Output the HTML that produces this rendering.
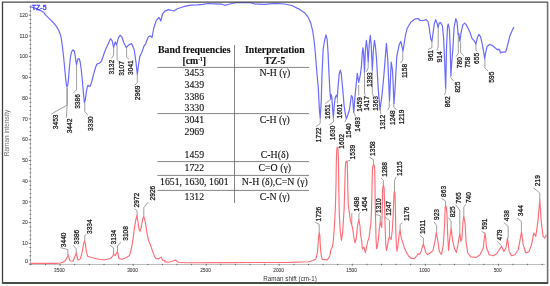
<!DOCTYPE html>
<html><head><meta charset="utf-8"><style>
html,body{margin:0;padding:0;background:#fff;width:550px;height:286px;overflow:hidden}
svg{display:block;filter:blur(0.3px)}
</style></head><body>
<svg width="550" height="286" viewBox="0 0 550 286">
<rect x="0" y="0" width="550" height="286" fill="#fff"/>
<g stroke="#a8aeae" stroke-width="0.8" fill="none">
<line x1="30.5" y1="5" x2="30.5" y2="264.5"/>
<line x1="30.5" y1="264.5" x2="545" y2="264.5"/>
</g>
<g stroke="#505050" stroke-width="0.8" fill="none">
<line x1="28.8" y1="264.1" x2="31.2" y2="264.1"/>
<line x1="29.6" y1="260.0" x2="31.2" y2="260.0"/>
<line x1="29.6" y1="255.8" x2="31.2" y2="255.8"/>
<line x1="29.6" y1="251.7" x2="31.2" y2="251.7"/>
<line x1="29.6" y1="247.5" x2="31.2" y2="247.5"/>
<line x1="28.8" y1="243.4" x2="31.2" y2="243.4"/>
<line x1="29.6" y1="239.2" x2="31.2" y2="239.2"/>
<line x1="29.6" y1="235.1" x2="31.2" y2="235.1"/>
<line x1="29.6" y1="230.9" x2="31.2" y2="230.9"/>
<line x1="29.6" y1="226.8" x2="31.2" y2="226.8"/>
<line x1="28.8" y1="222.6" x2="31.2" y2="222.6"/>
<line x1="29.6" y1="218.5" x2="31.2" y2="218.5"/>
<line x1="29.6" y1="214.3" x2="31.2" y2="214.3"/>
<line x1="29.6" y1="210.2" x2="31.2" y2="210.2"/>
<line x1="29.6" y1="206.0" x2="31.2" y2="206.0"/>
<line x1="28.8" y1="201.9" x2="31.2" y2="201.9"/>
<line x1="29.6" y1="197.7" x2="31.2" y2="197.7"/>
<line x1="29.6" y1="193.6" x2="31.2" y2="193.6"/>
<line x1="29.6" y1="189.4" x2="31.2" y2="189.4"/>
<line x1="29.6" y1="185.3" x2="31.2" y2="185.3"/>
<line x1="28.8" y1="181.1" x2="31.2" y2="181.1"/>
<line x1="29.6" y1="177.0" x2="31.2" y2="177.0"/>
<line x1="29.6" y1="172.8" x2="31.2" y2="172.8"/>
<line x1="29.6" y1="168.7" x2="31.2" y2="168.7"/>
<line x1="29.6" y1="164.5" x2="31.2" y2="164.5"/>
<line x1="28.8" y1="160.4" x2="31.2" y2="160.4"/>
<line x1="29.6" y1="156.3" x2="31.2" y2="156.3"/>
<line x1="29.6" y1="152.1" x2="31.2" y2="152.1"/>
<line x1="29.6" y1="148.0" x2="31.2" y2="148.0"/>
<line x1="29.6" y1="143.8" x2="31.2" y2="143.8"/>
<line x1="28.8" y1="139.7" x2="31.2" y2="139.7"/>
<line x1="29.6" y1="135.5" x2="31.2" y2="135.5"/>
<line x1="29.6" y1="131.4" x2="31.2" y2="131.4"/>
<line x1="29.6" y1="127.2" x2="31.2" y2="127.2"/>
<line x1="29.6" y1="123.1" x2="31.2" y2="123.1"/>
<line x1="28.8" y1="118.9" x2="31.2" y2="118.9"/>
<line x1="29.6" y1="114.8" x2="31.2" y2="114.8"/>
<line x1="29.6" y1="110.6" x2="31.2" y2="110.6"/>
<line x1="29.6" y1="106.5" x2="31.2" y2="106.5"/>
<line x1="29.6" y1="102.3" x2="31.2" y2="102.3"/>
<line x1="28.8" y1="98.2" x2="31.2" y2="98.2"/>
<line x1="29.6" y1="94.0" x2="31.2" y2="94.0"/>
<line x1="29.6" y1="89.9" x2="31.2" y2="89.9"/>
<line x1="29.6" y1="85.7" x2="31.2" y2="85.7"/>
<line x1="29.6" y1="81.6" x2="31.2" y2="81.6"/>
<line x1="28.8" y1="77.4" x2="31.2" y2="77.4"/>
<line x1="29.6" y1="73.3" x2="31.2" y2="73.3"/>
<line x1="29.6" y1="69.1" x2="31.2" y2="69.1"/>
<line x1="29.6" y1="65.0" x2="31.2" y2="65.0"/>
<line x1="29.6" y1="60.8" x2="31.2" y2="60.8"/>
<line x1="28.8" y1="56.7" x2="31.2" y2="56.7"/>
<line x1="29.6" y1="52.6" x2="31.2" y2="52.6"/>
<line x1="29.6" y1="48.4" x2="31.2" y2="48.4"/>
<line x1="29.6" y1="44.3" x2="31.2" y2="44.3"/>
<line x1="29.6" y1="40.1" x2="31.2" y2="40.1"/>
<line x1="28.8" y1="36.0" x2="31.2" y2="36.0"/>
<line x1="29.6" y1="31.8" x2="31.2" y2="31.8"/>
<line x1="29.6" y1="27.7" x2="31.2" y2="27.7"/>
<line x1="29.6" y1="23.5" x2="31.2" y2="23.5"/>
<line x1="29.6" y1="19.4" x2="31.2" y2="19.4"/>
<line x1="28.8" y1="15.2" x2="31.2" y2="15.2"/>
<line x1="29.6" y1="11.1" x2="31.2" y2="11.1"/>
<line x1="29.6" y1="6.9" x2="31.2" y2="6.9"/>
<line x1="30.9" y1="263.8" x2="30.9" y2="265.20000000000005"/>
<line x1="45.5" y1="263.8" x2="45.5" y2="265.20000000000005"/>
<line x1="60.1" y1="263.8" x2="60.1" y2="265.8"/>
<line x1="74.7" y1="263.8" x2="74.7" y2="265.20000000000005"/>
<line x1="89.3" y1="263.8" x2="89.3" y2="265.20000000000005"/>
<line x1="104.0" y1="263.8" x2="104.0" y2="265.20000000000005"/>
<line x1="118.6" y1="263.8" x2="118.6" y2="265.20000000000005"/>
<line x1="133.2" y1="263.8" x2="133.2" y2="265.8"/>
<line x1="147.8" y1="263.8" x2="147.8" y2="265.20000000000005"/>
<line x1="162.4" y1="263.8" x2="162.4" y2="265.20000000000005"/>
<line x1="177.0" y1="263.8" x2="177.0" y2="265.20000000000005"/>
<line x1="191.6" y1="263.8" x2="191.6" y2="265.20000000000005"/>
<line x1="206.2" y1="263.8" x2="206.2" y2="265.8"/>
<line x1="220.8" y1="263.8" x2="220.8" y2="265.20000000000005"/>
<line x1="235.4" y1="263.8" x2="235.4" y2="265.20000000000005"/>
<line x1="250.0" y1="263.8" x2="250.0" y2="265.20000000000005"/>
<line x1="264.6" y1="263.8" x2="264.6" y2="265.20000000000005"/>
<line x1="279.2" y1="263.8" x2="279.2" y2="265.8"/>
<line x1="293.9" y1="263.8" x2="293.9" y2="265.20000000000005"/>
<line x1="308.5" y1="263.8" x2="308.5" y2="265.20000000000005"/>
<line x1="323.1" y1="263.8" x2="323.1" y2="265.20000000000005"/>
<line x1="337.7" y1="263.8" x2="337.7" y2="265.20000000000005"/>
<line x1="352.3" y1="263.8" x2="352.3" y2="265.8"/>
<line x1="366.9" y1="263.8" x2="366.9" y2="265.20000000000005"/>
<line x1="381.5" y1="263.8" x2="381.5" y2="265.20000000000005"/>
<line x1="396.1" y1="263.8" x2="396.1" y2="265.20000000000005"/>
<line x1="410.7" y1="263.8" x2="410.7" y2="265.20000000000005"/>
<line x1="425.3" y1="263.8" x2="425.3" y2="265.8"/>
<line x1="439.9" y1="263.8" x2="439.9" y2="265.20000000000005"/>
<line x1="454.5" y1="263.8" x2="454.5" y2="265.20000000000005"/>
<line x1="469.2" y1="263.8" x2="469.2" y2="265.20000000000005"/>
<line x1="483.8" y1="263.8" x2="483.8" y2="265.20000000000005"/>
<line x1="498.4" y1="263.8" x2="498.4" y2="265.8"/>
<line x1="513.0" y1="263.8" x2="513.0" y2="265.20000000000005"/>
<line x1="527.6" y1="263.8" x2="527.6" y2="265.20000000000005"/>
<line x1="542.2" y1="263.8" x2="542.2" y2="265.20000000000005"/>
</g>
<g font-family="Liberation Sans, sans-serif" font-size="5.9" fill="#484848" stroke="#484848" stroke-width="0.12">
<text x="27.8" y="243.0" text-anchor="end" dominant-baseline="central" textLength="5.50" lengthAdjust="spacingAndGlyphs">10</text>
<text x="27.8" y="222.2" text-anchor="end" dominant-baseline="central" textLength="5.50" lengthAdjust="spacingAndGlyphs">20</text>
<text x="27.8" y="201.5" text-anchor="end" dominant-baseline="central" textLength="5.50" lengthAdjust="spacingAndGlyphs">30</text>
<text x="27.8" y="180.7" text-anchor="end" dominant-baseline="central" textLength="5.50" lengthAdjust="spacingAndGlyphs">40</text>
<text x="27.8" y="160.0" text-anchor="end" dominant-baseline="central" textLength="5.50" lengthAdjust="spacingAndGlyphs">50</text>
<text x="27.8" y="139.3" text-anchor="end" dominant-baseline="central" textLength="5.50" lengthAdjust="spacingAndGlyphs">60</text>
<text x="27.8" y="118.5" text-anchor="end" dominant-baseline="central" textLength="5.50" lengthAdjust="spacingAndGlyphs">70</text>
<text x="27.8" y="97.8" text-anchor="end" dominant-baseline="central" textLength="5.50" lengthAdjust="spacingAndGlyphs">80</text>
<text x="27.8" y="77.0" text-anchor="end" dominant-baseline="central" textLength="5.50" lengthAdjust="spacingAndGlyphs">90</text>
<text x="27.8" y="56.3" text-anchor="end" dominant-baseline="central" textLength="8.25" lengthAdjust="spacingAndGlyphs">100</text>
<text x="27.8" y="35.6" text-anchor="end" dominant-baseline="central" textLength="8.25" lengthAdjust="spacingAndGlyphs">110</text>
<text x="27.8" y="14.8" text-anchor="end" dominant-baseline="central" textLength="8.25" lengthAdjust="spacingAndGlyphs">120</text>
<text x="28" y="260.5" text-anchor="end" dominant-baseline="central">0</text>
<text x="59.4" y="269.5" text-anchor="middle" dominant-baseline="central" textLength="10.60" lengthAdjust="spacingAndGlyphs">3500</text>
<text x="132.5" y="269.5" text-anchor="middle" dominant-baseline="central" textLength="10.60" lengthAdjust="spacingAndGlyphs">3000</text>
<text x="205.5" y="269.5" text-anchor="middle" dominant-baseline="central" textLength="10.60" lengthAdjust="spacingAndGlyphs">2500</text>
<text x="278.6" y="269.5" text-anchor="middle" dominant-baseline="central" textLength="10.60" lengthAdjust="spacingAndGlyphs">2000</text>
<text x="351.6" y="269.5" text-anchor="middle" dominant-baseline="central" textLength="10.60" lengthAdjust="spacingAndGlyphs">1500</text>
<text x="424.6" y="269.5" text-anchor="middle" dominant-baseline="central" textLength="10.60" lengthAdjust="spacingAndGlyphs">1000</text>
<text x="497.7" y="269.5" text-anchor="middle" dominant-baseline="central" textLength="7.95" lengthAdjust="spacingAndGlyphs">500</text>
</g>
<text transform="translate(6.9,133) rotate(-90)" text-anchor="middle" dominant-baseline="central" font-family="Liberation Sans, sans-serif" font-size="6.5" fill="#707070">Raman intensity</text>
<text x="290" y="278.5" text-anchor="middle" dominant-baseline="central" font-family="Liberation Sans, sans-serif" font-size="6.3" fill="#333">Raman shift (cm-1)</text>
<polyline points="30.5,263.3 58.0,263.3 60.5,263.0 62.5,262.4 64.5,261.3 66.0,259.4 67.3,257.0 68.2,255.1 69.9,260.7 73.0,261.2 75.5,255.0 76.2,252.6 77.9,260.0 80.4,258.7 82.3,251.4 83.5,244.0 84.5,241.0 85.5,244.0 86.3,251.4 87.7,256.3 91.4,257.5 96.3,258.7 103.6,260.0 107.3,259.2 111.0,258.2 112.7,256.0 113.6,254.2 115.3,255.6 117.4,251.5 119.0,258.6 122.2,259.2 126.4,257.5 129.6,255.4 131.7,247.0 133.1,238.6 134.4,228.1 135.9,219.7 136.9,215.5 138.0,221.8 139.0,229.2 140.1,231.3 141.5,226.0 142.8,218.7 143.8,216.6 145.3,221.8 147.0,233.4 148.5,240.7 150.6,244.9 152.2,250.2 154.1,255.4 155.8,258.6 159.0,258.6 161.1,257.1 162.5,260.0 165.3,260.7 164.5,261.8 168.2,262.2 171.8,261.5 175.5,260.0 178.2,262.2 186.4,262.7 230.0,262.6 250.0,262.5 290.0,262.4 308.7,261.7 313.0,260.5 316.0,258.7 317.5,252.0 318.4,240.0 318.8,235.0 319.3,233.0 319.8,235.0 320.3,245.0 321.0,253.8 322.2,259.5 323.7,259.6 327.3,259.8 329.8,256.2 331.0,249.0 332.0,247.7 333.0,244.0 334.4,226.9 335.4,207.3 336.0,185.0 336.4,158.0 336.8,149.5 337.3,147.2 337.9,148.5 338.4,158.0 338.8,190.0 339.3,214.6 340.3,231.8 341.5,240.3 342.7,231.8 344.2,207.3 344.8,185.0 345.3,167.0 345.8,162.2 346.5,161.2 347.2,162.5 347.6,175.0 347.8,190.0 348.3,205.0 349.5,214.0 350.5,221.0 351.6,224.3 352.6,228.0 353.8,237.0 355.0,243.0 356.3,238.0 357.5,226.0 358.9,219.5 360.0,226.0 360.6,235.0 361.9,242.0 362.3,249.0 363.9,247.2 365.4,252.7 366.8,246.0 367.8,240.9 368.9,238.6 369.8,232.0 370.9,222.9 371.5,210.0 371.9,195.0 372.4,170.0 372.9,165.5 373.6,164.5 374.3,165.5 374.8,172.0 375.2,200.0 375.6,220.0 376.0,238.0 376.6,248.8 377.5,246.0 378.5,238.0 379.6,226.0 380.3,222.0 381.0,225.0 381.7,227.5 382.2,210.0 382.7,188.0 383.4,185.3 384.1,188.0 384.6,205.0 385.2,230.0 385.8,245.0 386.5,250.4 387.3,247.0 388.4,240.0 389.5,236.5 390.3,238.0 391.2,239.5 392.3,230.0 393.2,214.6 393.8,198.0 394.1,193.0 394.5,191.5 394.9,193.0 395.3,205.0 395.8,230.0 396.3,245.0 397.0,251.2 397.8,247.0 398.3,242.0 399.2,234.0 400.1,229.6 400.9,236.2 402.0,239.9 403.0,243.0 404.2,247.2 406.4,252.4 408.6,256.0 411.5,258.5 414.1,258.6 416.6,256.1 418.2,253.7 419.5,254.5 421.2,251.2 422.3,247.0 423.3,243.8 424.5,247.9 425.6,252.0 427.3,254.5 428.9,253.7 431.4,252.0 433.0,250.4 434.3,244.6 435.5,238.0 436.3,232.3 437.6,239.7 438.1,242.5 439.4,251.7 441.5,254.3 443.3,245.1 444.6,224.1 445.1,209.0 445.6,205.7 446.3,207.0 446.9,213.0 447.8,237.2 448.6,250.4 449.9,237.2 451.2,228.1 452.5,239.9 454.6,249.0 456.4,252.5 458.3,242.5 459.8,233.3 460.9,241.2 461.9,238.6 463.0,221.5 463.8,216.2 465.1,224.1 466.1,242.5 467.7,253.0 470.9,256.9 476.1,257.5 480.0,254.7 483.3,248.0 484.3,238.0 485.0,233.1 485.7,238.0 486.6,248.0 489.3,254.7 493.3,255.7 496.6,253.7 499.2,249.7 501.6,246.4 503.9,251.4 505.9,248.0 507.5,238.1 509.2,251.4 511.5,255.7 514.9,254.7 518.2,249.7 519.8,241.4 521.5,231.5 523.2,244.8 525.8,253.0 529.1,251.4 531.5,244.8 533.8,233.1 535.8,236.4 538.1,219.8 539.8,199.9 541.4,223.2 543.1,236.4 544.8,238.1 546.4,234.8" fill="none" stroke="#ff6e78" stroke-width="1.15" stroke-linejoin="round"/>
<polyline points="30.5,6.8 33.5,7.8 36.8,8.7 40.5,10.5 43.6,12.3 46.0,15.4 49.7,19.1 53.4,22.7 56.4,26.4 58.9,30.7 60.7,35.6 61.5,40.0 62.5,47.0 63.5,56.0 64.5,66.0 65.5,77.0 66.3,84.0 67.0,86.8 67.8,85.0 68.5,79.0 69.5,66.0 70.5,57.0 71.5,52.0 73.0,49.8 74.3,51.0 75.2,56.0 76.0,62.0 76.6,64.5 77.3,61.0 78.2,58.5 79.2,58.8 80.2,62.0 81.3,70.0 82.5,82.0 83.5,94.0 84.4,102.6 85.3,100.0 86.4,91.4 87.3,87.0 88.1,85.3 89.1,86.2 90.0,86.5 91.0,84.0 91.8,81.6 93.0,76.5 94.3,71.8 95.5,67.5 96.7,64.5 98.0,63.5 99.2,63.3 100.5,62.3 101.6,60.8 102.8,57.5 104.1,53.5 105.8,49.0 107.7,44.9 110.5,38.7 112.2,40.8 113.6,47.5 115.2,41.9 116.6,44.9 118.4,37.9 120.1,35.2 121.9,37.0 123.6,42.2 126.2,47.5 128.8,44.9 131.5,43.6 134.1,49.2 135.8,60.6 137.3,74.5 138.5,65.0 139.9,56.2 142.0,51.9 144.0,46.0 145.5,44.2 147.0,40.0 148.5,36.8 150.3,35.9 152.0,37.6 153.8,28.0 156.4,20.1 159.0,17.5 160.8,21.0 162.5,14.0 165.1,10.9 168.6,9.6 171.2,10.5 173.9,10.9 177.4,8.8 183.5,6.7 190.5,5.2 197.5,4.9 202.8,4.4 208.0,3.5 215.0,3.8 222.0,4.2 225.0,5.3 228.0,4.5 232.0,3.5 236.0,2.6 250.0,2.6 254.0,3.8 265.0,4.3 275.0,3.4 284.5,4.0 291.8,5.5 299.0,9.1 304.5,12.7 308.2,17.3 310.9,23.6 312.7,30.9 314.0,40.0 315.2,51.5 316.3,65.5 317.2,76.0 318.3,88.0 319.4,110.0 320.2,118.0 321.3,100.0 322.0,74.0 323.1,49.7 324.5,41.0 325.9,34.9 327.1,39.2 328.0,51.5 328.9,72.0 329.6,85.0 330.2,95.0 330.6,99.0 331.2,94.5 331.8,97.0 332.7,110.0 333.4,117.3 334.2,106.0 335.0,99.0 335.7,96.4 336.6,95.2 337.3,97.5 338.2,85.0 339.2,74.0 340.3,70.2 341.3,74.0 342.5,87.3 343.4,97.0 344.1,105.5 345.3,114.0 346.4,118.8 347.5,116.0 349.4,110.0 351.4,95.6 352.5,97.0 353.7,112.4 355.4,92.0 357.3,73.4 358.7,82.4 360.4,74.6 361.5,65.6 362.3,52.0 363.0,47.9 363.7,55.0 364.5,72.0 365.4,50.0 366.4,40.4 367.3,48.0 368.2,62.0 369.2,45.0 370.3,35.4 371.2,45.0 372.3,70.0 373.4,50.0 374.5,40.4 375.5,47.0 376.6,60.0 378.3,90.0 380.0,109.6 382.0,95.0 383.9,75.0 386.4,43.4 387.8,60.0 389.5,101.2 391.2,62.0 392.5,70.0 394.0,103.4 395.1,88.0 396.7,57.2 399.2,44.6 400.8,41.5 403.0,50.9 405.5,35.2 407.2,28.2 410.9,22.1 414.6,19.2 418.2,18.5 420.0,20.5 423.5,20.5 426.1,19.6 427.9,21.4 429.1,26.6 430.1,34.5 430.8,38.8 431.9,41.5 433.1,32.7 434.3,24.0 435.7,19.6 437.1,23.1 438.0,27.5 439.2,23.1 440.6,22.6 442.4,25.7 443.6,38.0 444.6,60.0 445.3,80.0 445.7,88.0 446.1,70.0 446.6,45.0 447.6,25.7 448.3,24.0 449.4,29.2 450.1,45.0 450.6,65.0 450.9,75.5 451.8,62.0 452.9,48.5 454.1,27.5 455.8,18.7 457.1,22.2 458.1,34.5 458.8,33.6 459.9,41.5 461.1,32.7 462.8,24.9 464.6,23.1 466.3,24.9 468.6,29.2 470.0,32.4 472.1,38.7 474.2,40.8 475.9,43.9 477.4,37.6 478.8,34.5 480.5,36.6 482.2,43.9 483.7,52.3 484.7,58.6 485.6,53.0 487.1,46.7 489.5,44.4 491.9,45.2 494.2,47.0 496.6,49.1 498.2,49.9 498.9,49.1 499.7,50.2 500.5,53.0 501.6,52.2 503.7,52.2 505.7,51.8 506.8,48.3 508.4,42.0 509.9,35.7 512.3,30.2 513.9,27.1" fill="none" stroke="#6a6aff" stroke-width="1.2" stroke-linejoin="round"/>
<g stroke="#777" stroke-width="0.7" fill="none">
<polyline points="51.4,114.0 67.1,105.1 67.1,87.6"/>
<polyline points="66.4,117.5 67.1,105.1 67.1,87.6"/>
<polyline points="73.3,92.9 76.6,89.8 76.6,65.0"/>
<polyline points="87.7,114.8 84.8,111.6 84.8,103.0"/>
<polyline points="111.4,58.5 113.6,55.0 113.6,47.5"/>
<polyline points="118.5,61.2 117.1,59.7 117.1,45.0"/>
<polyline points="129.0,59.5 126.6,57.0 126.6,48.0"/>
<polyline points="135.0,85.0 137.3,82.3 137.3,75.0"/>
<polyline points="315.9,126.5 320.2,123.5 320.2,118.0"/>
<polyline points="325.3,103.5 330.6,99.5"/>
<polyline points="329.2,124.8 333.4,121.9 333.4,117.3"/>
<polyline points="337.5,103.3 337.3,97.5"/>
<polyline points="344.8,122.0 346.4,118.8"/>
<polyline points="355.5,116.5 353.7,112.4"/>
<polyline points="358.7,95.5 358.7,85.0"/>
<polyline points="365.3,95.5 364.5,93.0 364.5,72.0"/>
<polyline points="366.4,72.0 368.2,67.8 368.2,62.0"/>
<polyline points="373.4,96.0 372.3,93.6 372.3,70.0"/>
<polyline points="381.0,114.0 380.3,112.0 380.3,109.0"/>
<polyline points="387.8,110.0 389.2,107.3 389.2,101.5"/>
<polyline points="396.8,110.0 393.8,107.3 393.8,103.0"/>
<polyline points="400.6,62.9 402.8,60.0 402.8,50.5"/>
<polyline points="428.0,49.6 431.9,47.6 431.9,41.5"/>
<polyline points="436.8,50.6 438.2,46.7 438.2,27.5"/>
<polyline points="444.5,95.1 445.7,91.4 445.7,87.8"/>
<polyline points="453.6,81.1 450.8,77.6 450.8,75.5"/>
<polyline points="456.1,56.6 458.3,53.1 458.3,34.5"/>
<polyline points="463.6,55.7 460.6,52.2 460.6,42.0"/>
<polyline points="476.8,51.5 475.9,49.6 475.9,43.9"/>
<polyline points="488.1,71.2 484.9,68.0 484.9,58.6"/>
<polyline points="60.5,247.6 67.9,249.6 67.9,255.0"/>
<polyline points="73.1,245.2 76.3,248.9 76.3,252.6"/>
<polyline points="86.5,234.4 84.8,235.5 84.8,241.0"/>
<polyline points="110.0,245.3 113.6,247.9 113.6,254.0"/>
<polyline points="120.8,242.2 117.5,246.0 117.5,251.5"/>
<polyline points="134.3,208.7 137.1,210.7 137.1,215.5"/>
<polyline points="148.0,202.3 143.8,207.6 143.8,216.6"/>
<polyline points="314.8,222.0 319.2,224.5 319.2,233.0"/>
<polyline points="339.2,147.6 337.8,147.8"/>
<polyline points="350.1,160.3 346.8,161.4"/>
<polyline points="351.8,213.0 351.8,224.0"/>
<polyline points="360.6,212.3 358.9,214.3 358.9,219.8"/>
<polyline points="369.5,157.3 373.6,159.8 373.6,164.5"/>
<polyline points="375.2,214.3 380.3,215.7 380.3,222.0"/>
<polyline points="381.0,178.0 383.4,180.5 383.4,185.3"/>
<polyline points="385.0,217.1 389.5,220.6 389.5,236.5"/>
<polyline points="396.1,176.9 394.5,180.6 394.5,191.5"/>
<polyline points="402.3,222.8 400.1,224.4 400.1,229.6"/>
<polyline points="420.2,235.6 423.4,238.0 423.4,243.8"/>
<polyline points="434.0,221.9 436.7,225.6 436.7,232.0"/>
<polyline points="441.4,198.4 445.6,201.0 445.6,205.7"/>
<polyline points="448.4,217.6 451.1,221.5 451.1,228.1"/>
<polyline points="455.3,204.6 459.8,210.0 459.8,233.3"/>
<polyline points="465.8,204.2 463.8,207.3 463.8,216.2"/>
<polyline points="481.6,231.4 484.9,233.0"/>
<polyline points="497.2,241.4 501.5,245.7"/>
<polyline points="503.8,222.5 508.2,226.5 508.2,238.0"/>
<polyline points="517.1,218.2 521.4,221.5 521.4,231.0"/>
<polyline points="533.6,188.0 539.8,193.0 539.8,199.9"/>
</g>
<g font-family="Liberation Sans, sans-serif" font-size="6.6" fill="#111" stroke="#111" stroke-width="0.25">
<text transform="translate(55.0,121.8) rotate(-90)" x="0" y="0" text-anchor="middle" dominant-baseline="central">3453</text>
<text transform="translate(69.9,126.0) rotate(-90)" x="0" y="0" text-anchor="middle" dominant-baseline="central">3442</text>
<text transform="translate(77.0,101.5) rotate(-90)" x="0" y="0" text-anchor="middle" dominant-baseline="central">3386</text>
<text transform="translate(90.2,123.6) rotate(-90)" x="0" y="0" text-anchor="middle" dominant-baseline="central">3330</text>
<text transform="translate(111.4,67.2) rotate(-90)" x="0" y="0" text-anchor="middle" dominant-baseline="central">3132</text>
<text transform="translate(121.2,68.5) rotate(-90)" x="0" y="0" text-anchor="middle" dominant-baseline="central">3107</text>
<text transform="translate(130.1,67.6) rotate(-90)" x="0" y="0" text-anchor="middle" dominant-baseline="central">3041</text>
<text transform="translate(137.5,92.8) rotate(-90)" x="0" y="0" text-anchor="middle" dominant-baseline="central">2969</text>
<text transform="translate(318.4,134.8) rotate(-90)" x="0" y="0" text-anchor="middle" dominant-baseline="central">1722</text>
<text transform="translate(327.9,111.7) rotate(-90)" x="0" y="0" text-anchor="middle" dominant-baseline="central">1651</text>
<text transform="translate(332.3,133.0) rotate(-90)" x="0" y="0" text-anchor="middle" dominant-baseline="central">1630</text>
<text transform="translate(339.9,111.2) rotate(-90)" x="0" y="0" text-anchor="middle" dominant-baseline="central">1601</text>
<text transform="translate(348.0,130.6) rotate(-90)" x="0" y="0" text-anchor="middle" dominant-baseline="central">1540</text>
<text transform="translate(357.4,124.4) rotate(-90)" x="0" y="0" text-anchor="middle" dominant-baseline="central">1493</text>
<text transform="translate(359.8,104.5) rotate(-90)" x="0" y="0" text-anchor="middle" dominant-baseline="central">1459</text>
<text transform="translate(366.8,103.5) rotate(-90)" x="0" y="0" text-anchor="middle" dominant-baseline="central">1417</text>
<text transform="translate(369.1,79.6) rotate(-90)" x="0" y="0" text-anchor="middle" dominant-baseline="central">1393</text>
<text transform="translate(375.0,103.5) rotate(-90)" x="0" y="0" text-anchor="middle" dominant-baseline="central">1363</text>
<text transform="translate(382.5,122.2) rotate(-90)" x="0" y="0" text-anchor="middle" dominant-baseline="central">1312</text>
<text transform="translate(392.5,117.7) rotate(-90)" x="0" y="0" text-anchor="middle" dominant-baseline="central">1248</text>
<text transform="translate(401.4,117.0) rotate(-90)" x="0" y="0" text-anchor="middle" dominant-baseline="central">1219</text>
<text transform="translate(404.1,71.0) rotate(-90)" x="0" y="0" text-anchor="middle" dominant-baseline="central">1158</text>
<text transform="translate(430.5,55.5) rotate(-90)" x="0" y="0" text-anchor="middle" dominant-baseline="central">961</text>
<text transform="translate(439.3,56.9) rotate(-90)" x="0" y="0" text-anchor="middle" dominant-baseline="central">914</text>
<text transform="translate(447.4,101.8) rotate(-90)" x="0" y="0" text-anchor="middle" dominant-baseline="central">862</text>
<text transform="translate(457.5,87.1) rotate(-90)" x="0" y="0" text-anchor="middle" dominant-baseline="central">825</text>
<text transform="translate(459.2,62.7) rotate(-90)" x="0" y="0" text-anchor="middle" dominant-baseline="central">780</text>
<text transform="translate(467.1,62.3) rotate(-90)" x="0" y="0" text-anchor="middle" dominant-baseline="central">758</text>
<text transform="translate(476.7,58.4) rotate(-90)" x="0" y="0" text-anchor="middle" dominant-baseline="central">655</text>
<text transform="translate(491.6,77.2) rotate(-90)" x="0" y="0" text-anchor="middle" dominant-baseline="central">595</text>
<text transform="translate(63.2,239.8) rotate(-90)" x="0" y="0" text-anchor="middle" dominant-baseline="central">3440</text>
<text transform="translate(76.1,237.1) rotate(-90)" x="0" y="0" text-anchor="middle" dominant-baseline="central">3386</text>
<text transform="translate(89.1,226.7) rotate(-90)" x="0" y="0" text-anchor="middle" dominant-baseline="central">3334</text>
<text transform="translate(113.5,237.1) rotate(-90)" x="0" y="0" text-anchor="middle" dominant-baseline="central">3134</text>
<text transform="translate(125.2,233.4) rotate(-90)" x="0" y="0" text-anchor="middle" dominant-baseline="central">3108</text>
<text transform="translate(136.6,200.1) rotate(-90)" x="0" y="0" text-anchor="middle" dominant-baseline="central">2972</text>
<text transform="translate(152.3,193.1) rotate(-90)" x="0" y="0" text-anchor="middle" dominant-baseline="central">2926</text>
<text transform="translate(318.0,214.1) rotate(-90)" x="0" y="0" text-anchor="middle" dominant-baseline="central">1726</text>
<text transform="translate(341.5,141.3) rotate(-90)" x="0" y="0" text-anchor="middle" dominant-baseline="central">1602</text>
<text transform="translate(352.8,152.1) rotate(-90)" x="0" y="0" text-anchor="middle" dominant-baseline="central">1539</text>
<text transform="translate(356.0,204.2) rotate(-90)" x="0" y="0" text-anchor="middle" dominant-baseline="central">1498</text>
<text transform="translate(364.5,204.2) rotate(-90)" x="0" y="0" text-anchor="middle" dominant-baseline="central">1454</text>
<text transform="translate(372.1,148.6) rotate(-90)" x="0" y="0" text-anchor="middle" dominant-baseline="central">1358</text>
<text transform="translate(378.7,205.7) rotate(-90)" x="0" y="0" text-anchor="middle" dominant-baseline="central">1310</text>
<text transform="translate(384.5,169.4) rotate(-90)" x="0" y="0" text-anchor="middle" dominant-baseline="central">1288</text>
<text transform="translate(388.5,208.3) rotate(-90)" x="0" y="0" text-anchor="middle" dominant-baseline="central">1247</text>
<text transform="translate(399.2,168.6) rotate(-90)" x="0" y="0" text-anchor="middle" dominant-baseline="central">1215</text>
<text transform="translate(406.0,213.8) rotate(-90)" x="0" y="0" text-anchor="middle" dominant-baseline="central">1176</text>
<text transform="translate(422.7,227.0) rotate(-90)" x="0" y="0" text-anchor="middle" dominant-baseline="central">1011</text>
<text transform="translate(436.7,214.5) rotate(-90)" x="0" y="0" text-anchor="middle" dominant-baseline="central">923</text>
<text transform="translate(443.7,191.4) rotate(-90)" x="0" y="0" text-anchor="middle" dominant-baseline="central">863</text>
<text transform="translate(452.0,211.8) rotate(-90)" x="0" y="0" text-anchor="middle" dominant-baseline="central">825</text>
<text transform="translate(458.4,197.9) rotate(-90)" x="0" y="0" text-anchor="middle" dominant-baseline="central">765</text>
<text transform="translate(468.9,197.6) rotate(-90)" x="0" y="0" text-anchor="middle" dominant-baseline="central">740</text>
<text transform="translate(484.9,224.0) rotate(-90)" x="0" y="0" text-anchor="middle" dominant-baseline="central">591</text>
<text transform="translate(499.9,235.0) rotate(-90)" x="0" y="0" text-anchor="middle" dominant-baseline="central">479</text>
<text transform="translate(506.5,215.7) rotate(-90)" x="0" y="0" text-anchor="middle" dominant-baseline="central">438</text>
<text transform="translate(520.8,210.7) rotate(-90)" x="0" y="0" text-anchor="middle" dominant-baseline="central">344</text>
<text transform="translate(537.0,180.7) rotate(-90)" x="0" y="0" text-anchor="middle" dominant-baseline="central">219</text>
</g>
<text x="31.8" y="9.9" font-family="Liberation Sans, sans-serif" font-size="7" fill="#3838f8" stroke="#3838f8" stroke-width="0.3">TZ-5</text>
<g stroke="#666" stroke-width="0.8">
<line x1="157.5" y1="67.4" x2="309" y2="67.4"/>
<line x1="157.5" y1="113.6" x2="309" y2="113.6"/>
<line x1="157.5" y1="161.6" x2="309" y2="161.6"/>
<line x1="157.5" y1="175.4" x2="309" y2="175.4"/>
<line x1="157.5" y1="190.4" x2="309" y2="190.4"/>
<line x1="234.5" y1="45" x2="234.5" y2="203"/>
</g>
<g font-family="Liberation Serif, serif" font-size="9.8" fill="#111" stroke="#111" stroke-width="0.12">
<text x="194.3" y="53.2" text-anchor="middle" font-weight="bold">Band frequencies</text>
<text x="194.3" y="64.3" text-anchor="middle" font-weight="bold">[cm<tspan font-size="5.5" dy="-3.5">-1</tspan><tspan dy="3.5">]</tspan></text>
<text x="274.8" y="53.2" text-anchor="middle" font-weight="bold">Interpretation</text>
<text x="274.8" y="64.3" text-anchor="middle" font-weight="bold">TZ-5</text>
<text x="194.3" y="76.4" text-anchor="middle">3453</text>
<text x="194.3" y="88.4" text-anchor="middle">3439</text>
<text x="194.3" y="100.2" text-anchor="middle">3386</text>
<text x="194.3" y="111.3" text-anchor="middle">3330</text>
<text x="194.3" y="123" text-anchor="middle">3041</text>
<text x="194.3" y="134.8" text-anchor="middle">2969</text>
<text x="194.3" y="157.9" text-anchor="middle">1459</text>
<text x="194.3" y="171.1" text-anchor="middle">1722</text>
<text x="194.3" y="185.2" text-anchor="middle">1651, 1630, 1601</text>
<text x="194.3" y="200.3" text-anchor="middle">1312</text>
<text x="274.8" y="76.4" text-anchor="middle">N-H (γ)</text>
<text x="274.8" y="123" text-anchor="middle">C-H (γ)</text>
<text x="274.8" y="157.9" text-anchor="middle">C-H(δ)</text>
<text x="274.8" y="171.1" text-anchor="middle">C=O (γ)</text>
<text x="274.8" y="185.2" text-anchor="middle">N-H (δ),C=N (γ)</text>
<text x="274.8" y="200.3" text-anchor="middle">C-N (γ)</text>
</g>
<g fill="none" stroke="#3a403a">
<line x1="2.5" y1="2" x2="2.5" y2="283.5" stroke-width="1.3"/>
<line x1="2" y1="2.2" x2="548" y2="2.2" stroke-width="1.2" stroke="#4a4a4a"/>
<line x1="547.6" y1="2" x2="547.6" y2="283.5" stroke-width="1.6" stroke="#707070"/>
<line x1="2" y1="283" x2="548" y2="283" stroke-width="1.8" stroke="#465046"/>
</g>
</svg>
</body></html>
